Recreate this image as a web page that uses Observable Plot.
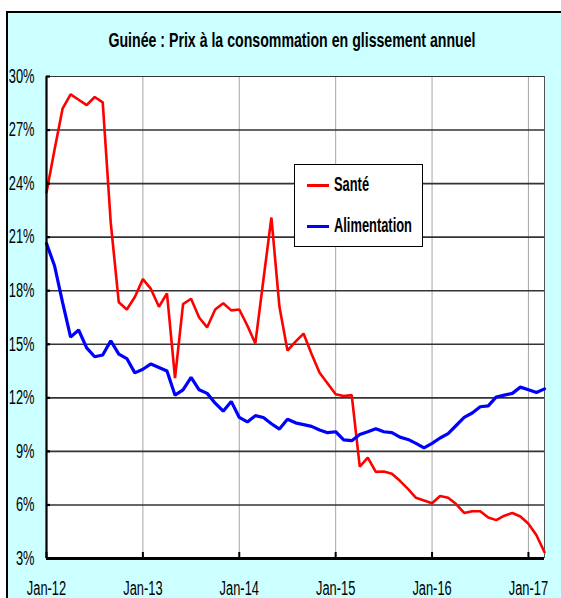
<!DOCTYPE html>
<html>
<head>
<meta charset="utf-8">
<script src="https://cdn.jsdelivr.net/npm/d3@7"></script>
<script src="https://cdn.jsdelivr.net/npm/@observablehq/plot@0.6"></script>
<style>
  html, body { margin: 0; padding: 0; }
  body { width: 561px; height: 598px; overflow: hidden; position: relative; background: #fff;
         font-family: "Liberation Sans", Arial, sans-serif; }
  #frame { position: absolute; left: 6px; top: 11px; width: 640px; height: 660px;
           background: #CCFFFF; border: 2px solid #000; box-sizing: border-box; }
  #chart { position: absolute; left: 0; top: 0; }
  #title { position: absolute; left: 292px; top: 30px; white-space: nowrap;
           font-weight: bold; font-size: 20.5px; line-height: 20.5px; color: #000;
           transform: translateX(-50%) scaleX(0.69); transform-origin: center; }
  #legend { position: absolute; left: 294px; top: 164px; width: 129px; height: 83px;
            background: #fff; border: 1px solid #000; box-sizing: border-box; }
  .sw { position: absolute; left: 12px; width: 22px; height: 3px; }
  .lab { position: absolute; left: 39px; white-space: nowrap; font-weight: bold; font-size: 19.5px;
         line-height: 19.5px; transform: scaleX(0.66); transform-origin: left center; }
</style>
</head>
<body>
<div id="frame"></div>
<div id="chart"></div>
<div id="title">Guinée : Prix à la consommation en glissement annuel</div>
<div id="legend"></div>
<script>
// Monthly observations, Jan-12 .. Mar-17 (63 months)
const sante = [
  23.5, 25.9, 28.2, 29.0, 28.7, 28.4, 28.85, 28.55, 21.8, 17.35, 16.95, 17.65,
  18.65, 18.1, 17.1, 17.85, 13.1, 17.25, 17.55, 16.5, 15.95, 16.95, 17.3, 16.9,
  16.95, 16.05, 15.05, 18.6, 22.1, 17.1, 14.65, 15.15, 15.6, 14.45, 13.4, 12.8,
  12.2, 12.1, 12.15, 8.15, 8.65, 7.85, 7.87, 7.75, 7.35, 6.9, 6.4, 6.25,
  6.1, 6.5, 6.4, 6.05, 5.55, 5.65, 5.65, 5.3, 5.15, 5.4, 5.55, 5.35,
  4.95, 4.3, 3.35
];
const alimentation = [
  20.65, 19.4, 17.35, 15.4, 15.8, 14.8, 14.3, 14.4, 15.2, 14.45, 14.2, 13.4,
  13.6, 13.9, 13.7, 13.5, 12.15, 12.45, 13.15, 12.45, 12.25, 11.7, 11.25, 11.8,
  10.9, 10.65, 11.0, 10.9, 10.55, 10.25, 10.8, 10.6, 10.5, 10.4, 10.2, 10.05,
  10.1, 9.65, 9.6, 9.95, 10.1, 10.27, 10.1, 10.05, 9.8, 9.67, 9.45, 9.2,
  9.45, 9.75, 10.0, 10.45, 10.9, 11.15, 11.5, 11.55, 12.05, 12.15, 12.25, 12.6,
  12.45, 12.3, 12.5
];
const seriesNames = ["Santé", "Alimentation"];
const seriesColors = ["#FF0000", "#0000FF"];
const seriesWidths = [2.6, 3.2];
const tickLabels = ["Jan-12", "Jan-13", "Jan-14", "Jan-15", "Jan-16", "Jan-17"];
const tickMonths = [0, 12, 24, 36, 48, 60];
const yTicks = [3, 6, 9, 12, 15, 18, 21, 24, 27, 30];

const months = d3.range(sante.length);
const rowsS = months.map(i => ({i, v: sante[i]}));
const rowsA = months.map(i => ({i, v: alimentation[i]}));

const chart = Plot.plot({
  width: 561,
  height: 598,
  marginLeft: 46,
  marginRight: 17,
  marginTop: 76,
  marginBottom: 40,
  style: {background: "transparent", fontFamily: "'Liberation Sans', Arial, sans-serif", fontSize: "19.5px", color: "#000"},
  x: {domain: [0, sante.length - 1], axis: null, label: null},
  y: {domain: [3, 30], axis: null, label: null},
  marks: [
    Plot.frame({fill: "#fff", stroke: null}),
    Plot.ruleX(tickMonths.slice(1), {stroke: "#a6a6a6", strokeWidth: 1}),
    Plot.ruleY(yTicks.filter(d => d > 3 && d < 30), {stroke: "#333", strokeWidth: 1.6}),
    Plot.ruleY([30], {stroke: "#333", strokeWidth: 1}),
    Plot.ruleX([sante.length - 1], {stroke: "#555", strokeWidth: 1}),
    Plot.line(rowsS, {x: "i", y: "v", stroke: seriesColors[0], strokeWidth: seriesWidths[0], strokeLinejoin: "miter"}),
    Plot.line(rowsA, {x: "i", y: "v", stroke: seriesColors[1], strokeWidth: seriesWidths[1], strokeLinejoin: "miter"}),
    Plot.ruleX([0], {stroke: "#000", strokeWidth: 2.2}),
    Plot.ruleY([3], {stroke: "#000", strokeWidth: 3}),
    Plot.axisY(yTicks, {anchor: "left", label: null, tickSize: 4, dx: 4, text: null, stroke: "#000", strokeWidth: 2.2}),
    Plot.axisX(tickMonths, {anchor: "bottom", label: null, tickSize: 6, dy: -6, text: null, stroke: "#000", strokeWidth: 2}),
    Plot.axisY(yTicks, {anchor: "left", label: null, tickSize: 0, tickPadding: 12, tickFormat: d => d + "%", fill: "#000"}),
    Plot.axisX(tickMonths, {anchor: "bottom", label: null, tickSize: 0, tickPadding: 23,
      tickFormat: d => tickLabels[tickMonths.indexOf(d)], fill: "#000"})
  ]
});
// condensed look of the original lettering
chart.querySelectorAll("text").forEach(t => {
  const tr = t.getAttribute("transform");
  if (tr) t.setAttribute("transform", tr + " scale(0.66,1)");
});
document.getElementById("chart").appendChild(chart);

// legend
const legend = document.getElementById("legend");
const itemTops = [20, 61];
seriesNames.forEach((name, k) => {
  const sw = document.createElement("div");
  sw.className = "sw";
  sw.style.top = (itemTops[k] - 1.5) + "px";
  sw.style.background = seriesColors[k];
  legend.appendChild(sw);
  const lab = document.createElement("div");
  lab.className = "lab";
  lab.style.top = (itemTops[k] - 10.5) + "px";
  lab.textContent = name;
  legend.appendChild(lab);
});
</script>
</body>
</html>
